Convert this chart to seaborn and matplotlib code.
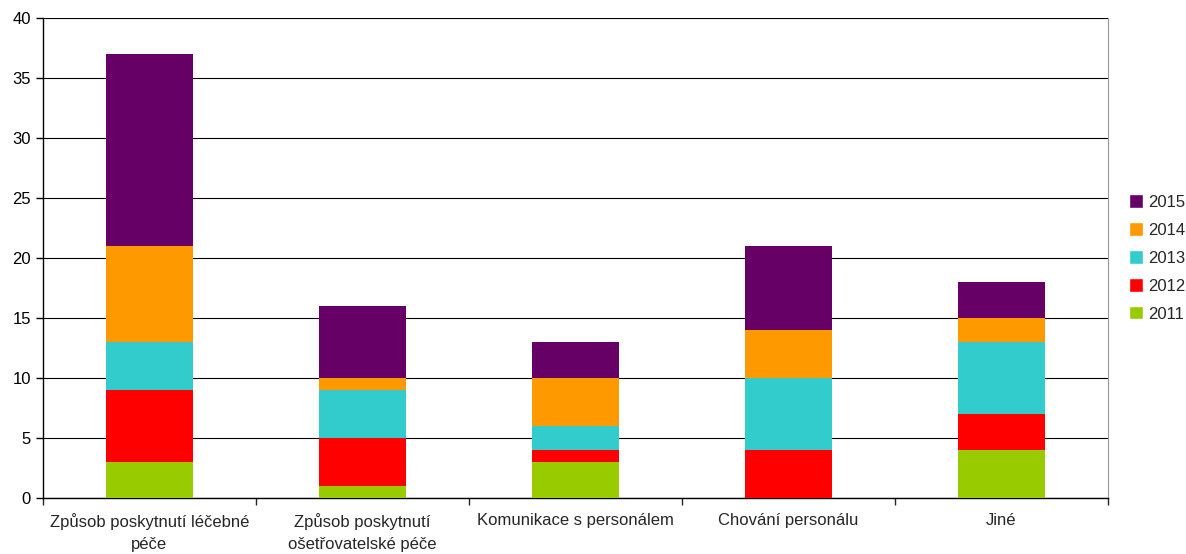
import numpy as np
import pandas as pd
import matplotlib
matplotlib.use("Agg")
import matplotlib.pyplot as plt
import seaborn as sns
from matplotlib.patches import Patch

kategorie = ["Způsob poskytnutí léčebné\npéče",
             "Způsob poskytnutí\nošetřovatelské péče",
             "Komunikace s personálem",
             "Chování personálu",
             "Jiné"]
roky = ["2011", "2012", "2013", "2014", "2015"]
h2011 = [3, 1, 3, 0, 4]
h2012 = [6, 4, 1, 4, 3]
h2013 = [4, 4, 2, 6, 6]
h2014 = [8, 1, 4, 4, 2]
h2015 = [16, 6, 3, 7, 3]
barvy = ["#99cc00", "#ff0000", "#33cccc", "#ff9900", "#660066"]

sns.set_style("white")
plt.rcParams['font.family'] = ['Liberation Sans', 'DejaVu Sans']

df = pd.DataFrame({"kategorie": kategorie, "2011": h2011, "2012": h2012,
                   "2013": h2013, "2014": h2014, "2015": h2015})
kum = df[roky].cumsum(axis=1)

fig = plt.figure(figsize=(11.86, 5.54), dpi=100)
ax = fig.add_axes([0.036, 0.101, 0.898, 0.866])

# nejvyssi kumulativni vrstva se kresli jako prvni
for rok, barva in reversed(list(zip(roky, barvy))):
    sns.barplot(x=df["kategorie"], y=kum[rok], color=barva, width=0.41,
                saturation=1, linewidth=0, edgecolor=barva, ax=ax, zorder=3)

ax.set_ylim(0, 40)
ax.set_xlim(-0.5, 4.5)
ax.set_yticks(range(0, 41, 5))
ax.set_xlabel("")
ax.set_ylabel("")
ax.yaxis.grid(True, color="black", linewidth=0.8, zorder=0)
ax.set_axisbelow(True)
for s in ["left", "bottom"]:
    ax.spines[s].set_color("black")
    ax.spines[s].set_linewidth(1)
ax.spines["top"].set_visible(False)
ax.spines["right"].set_color("#999999")
ax.tick_params(axis="y", length=5, width=1, direction="out", left=True, labelsize=12, colors="black")
ax.tick_params(axis="x", which="major", length=0, labelsize=12, pad=11)
for t in ax.get_xticklabels():
    t.set_linespacing(1.55)
ax.set_xticks(np.arange(-0.5, 5, 1), minor=True)
ax.tick_params(axis="x", which="minor", length=5, width=1, direction="out", bottom=True)

handles = [Patch(facecolor=b, label=r) for r, b in zip(roky, barvy)]
fig.legend(handles=handles[::-1], loc="center left", bbox_to_anchor=(1129 / 1186, 1 - 258 / 554),
           frameon=False, fontsize=12, handlelength=0.85, handleheight=0.85,
           handletextpad=0.3, labelspacing=0.75, borderaxespad=0, borderpad=0)

fig.savefig("out.png", dpi=100)
